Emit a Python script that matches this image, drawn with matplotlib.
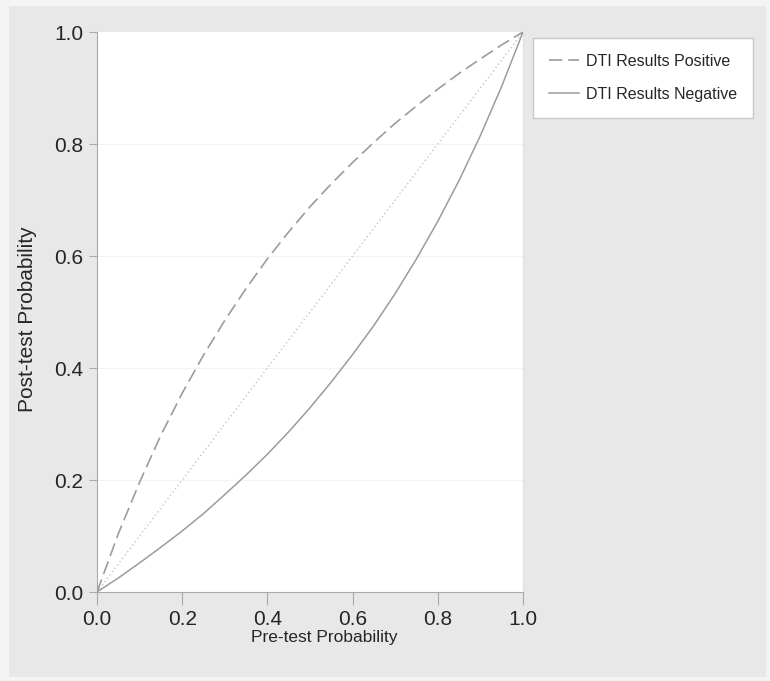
import matplotlib
matplotlib.use("Agg")
import matplotlib.pyplot as plt
from matplotlib.patches import Rectangle

plt.rcParams['font.family'] = ['Liberation Sans', 'DejaVu Sans']

# Data
pre_test = [0.0, 0.05, 0.10, 0.15, 0.20, 0.25, 0.30, 0.35, 0.40, 0.45, 0.50,
            0.55, 0.60, 0.65, 0.70, 0.75, 0.80, 0.85, 0.90, 0.95, 1.0]
post_positive = [0.0, 0.104, 0.196, 0.280, 0.355, 0.423, 0.485, 0.542, 0.595, 0.643, 0.688,
                 0.729, 0.767, 0.803, 0.837, 0.868, 0.898, 0.926, 0.952, 0.977, 1.0]
post_negative = [0.0, 0.025, 0.052, 0.080, 0.109, 0.140, 0.174, 0.209, 0.246, 0.286, 0.329,
                 0.375, 0.424, 0.476, 0.533, 0.595, 0.662, 0.735, 0.815, 0.903, 1.0]
reference_x = [0.0, 1.0]
reference_y = [0.0, 1.0]
ticks = [0.0, 0.2, 0.4, 0.6, 0.8, 1.0]
tick_labels = ["0.0", "0.2", "0.4", "0.6", "0.8", "1.0"]
series_labels = ["DTI Results Positive", "DTI Results Negative"]

W, H = 770, 681
fig = plt.figure(figsize=(W / 100, H / 100), dpi=100)
fig.patch.set_facecolor('#f4f4f4')
fig.patches.append(Rectangle((9 / W, 1 - 677 / H), (766 - 9) / W, (677 - 6) / H,
                             transform=fig.transFigure, facecolor='#e8e8e8',
                             edgecolor='none', zorder=-10))

ax = fig.add_axes([97 / W, 1 - 592 / H, (523 - 97) / W, (592 - 32) / H])
ax.set_zorder(5)
ax.set_facecolor('white')
ax.set_xlim(0, 1)
ax.set_ylim(0, 1)

for t in ticks[1:-1]:
    ax.axhline(t, color='#f3f3f3', lw=0.8, zorder=1)

line_col = '#9c9c9c'
ax.plot(reference_x, reference_y, color='#c4c4c4', lw=1.0, linestyle=(0, (1, 2)), zorder=2)
ax.plot(pre_test, post_positive, color=line_col, lw=1.2, linestyle=(0, (8, 3.5)),
        label=series_labels[0], zorder=3)
ax.plot(pre_test, post_negative, color=line_col, lw=1.1, linestyle='-',
        label=series_labels[1], zorder=3)

ax.spines['top'].set_visible(False)
ax.spines['right'].set_color('#e0e0e0')
ax.spines['left'].set_color('#aaaaaa')
ax.spines['bottom'].set_color('#aaaaaa')

ax.set_xticks(ticks)
ax.set_xticklabels(tick_labels)
ax.set_yticks(ticks)
ax.set_yticklabels(tick_labels)
ax.tick_params(axis='x', length=9, color='#aaaaaa', labelsize=15, labelcolor='#262626', pad=4)
ax.tick_params(axis='y', length=6, color='#aaaaaa', labelsize=15, labelcolor='#262626', pad=4)

ax.set_xlabel("Pre-test Probability", fontsize=12.5, color='#262626')
ax.xaxis.set_label_coords(0.533, -0.068)
ax.set_ylabel("Post-test Probability", fontsize=15, color='#262626')
ax.yaxis.set_label_coords(-0.14, 0.487)

leg = ax.legend(loc='upper left', bbox_to_anchor=(533 / W, 1 - 38 / H),
                bbox_transform=fig.transFigure, fontsize=11.5, frameon=True,
                fancybox=False, edgecolor='#c8c8c8', facecolor='white', framealpha=1,
                handlelength=1.9, handletextpad=0.4, borderpad=1.0, labelspacing=1.1,
                borderaxespad=0)
leg.get_frame().set_linewidth(1.0)
for txt in leg.get_texts():
    txt.set_color('#262626')

fig.savefig("out.png", dpi=100, facecolor=fig.get_facecolor())
